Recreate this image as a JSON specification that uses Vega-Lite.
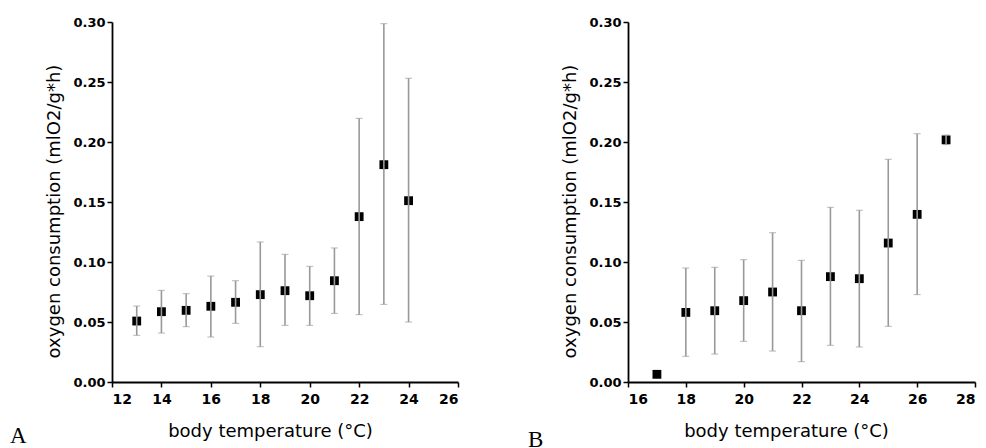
{
  "$schema": "https://vega.github.io/schema/vega-lite/v6.json",
  "padding": {"left": 10, "top": 16, "right": 5, "bottom": 0},
  "background": "white",
  "datasets": {
    "a": [
      {"t": 13, "m": 0.0508, "lo": 0.0389, "hi": 0.0633},
      {"t": 14, "m": 0.0586, "lo": 0.0408, "hi": 0.0764},
      {"t": 15, "m": 0.0597, "lo": 0.0461, "hi": 0.0736},
      {"t": 16, "m": 0.0631, "lo": 0.0375, "hi": 0.0883},
      {"t": 17, "m": 0.0664, "lo": 0.0489, "hi": 0.0844},
      {"t": 18, "m": 0.0728, "lo": 0.0294, "hi": 0.1167},
      {"t": 19, "m": 0.0761, "lo": 0.0472, "hi": 0.1064},
      {"t": 20, "m": 0.0719, "lo": 0.0472, "hi": 0.0964},
      {"t": 21, "m": 0.0844, "lo": 0.0572, "hi": 0.1117},
      {"t": 22, "m": 0.1378, "lo": 0.0561, "hi": 0.2197},
      {"t": 23, "m": 0.1811, "lo": 0.0647, "hi": 0.2986},
      {"t": 24, "m": 0.1511, "lo": 0.0500, "hi": 0.2531}
    ],
    "b": [
      {"t": 17, "m": 0.0064, "lo": null, "hi": null},
      {"t": 18, "m": 0.0580, "lo": 0.0214, "hi": 0.0950},
      {"t": 19, "m": 0.0594, "lo": 0.0233, "hi": 0.0956},
      {"t": 20, "m": 0.0678, "lo": 0.0339, "hi": 0.1019},
      {"t": 21, "m": 0.0750, "lo": 0.0258, "hi": 0.1244},
      {"t": 22, "m": 0.0594, "lo": 0.0169, "hi": 0.1014},
      {"t": 23, "m": 0.0878, "lo": 0.0306, "hi": 0.1456},
      {"t": 24, "m": 0.0861, "lo": 0.0292, "hi": 0.1431},
      {"t": 25, "m": 0.1158, "lo": 0.0464, "hi": 0.1856},
      {"t": 26, "m": 0.1397, "lo": 0.0728, "hi": 0.2069},
      {"t": 27, "m": 0.2018, "lo": 0.1978, "hi": 0.2058}
    ]
  },
  "spacing": 170,
  "bounds": "flush",
  "hconcat": [
    {
      "width": 346,
      "height": 360,
      "title": {"text": "A", "orient": "bottom", "anchor": "start", "frame": "group", "dx": -102, "dy": -19, "font": "Liberation Serif", "fontSize": 23, "fontWeight": "normal", "color": "black"},
      "data": {"name": "a"},
      "layer": [
        {
          "mark": {"type": "point", "shape": "square", "filled": true, "color": "black", "size": 78, "opacity": 1},
          "encoding": {
            "x": {"field": "t", "type": "quantitative", "scale": {"domain": [12, 26], "nice": false}, "axis": {"values": [12, 14, 16, 18, 20, 22, 24, 26], "title": "body temperature (°C)", "titleX": 158}},
            "y": {"field": "m", "type": "quantitative", "scale": {"domain": [0, 0.3], "nice": false}, "axis": {"values": [0, 0.05, 0.1, 0.15, 0.2, 0.25, 0.3], "format": ".2f", "title": "oxygen consumption (mlO2/g*h)", "titleY": 189}}
          }
        },
        {
          "transform": [{"filter": "isValid(datum.lo)"}],
          "mark": {"type": "errorbar", "ticks": {"size": 7, "color": "#999999", "strokeWidth": 1.6}, "rule": {"color": "#999999", "strokeWidth": 1.6}},
          "encoding": {
            "x": {"field": "t", "type": "quantitative"},
            "y": {"field": "lo", "type": "quantitative", "title": "oxygen consumption (mlO2/g*h)"},
            "y2": {"field": "hi"}
          }
        }
      ]
    },
    {
      "width": 347,
      "height": 360,
      "title": {"text": "B", "orient": "bottom", "anchor": "start", "frame": "group", "dx": -100, "dy": -15, "font": "Liberation Serif", "fontSize": 23, "fontWeight": "normal", "color": "black"},
      "data": {"name": "b"},
      "layer": [
        {
          "mark": {"type": "point", "shape": "square", "filled": true, "color": "black", "size": 78, "opacity": 1},
          "encoding": {
            "x": {"field": "t", "type": "quantitative", "scale": {"domain": [16, 28], "nice": false}, "axis": {"values": [16, 18, 20, 22, 24, 26, 28], "title": "body temperature (°C)", "titleX": 158}},
            "y": {"field": "m", "type": "quantitative", "scale": {"domain": [0, 0.3], "nice": false}, "axis": {"values": [0, 0.05, 0.1, 0.15, 0.2, 0.25, 0.3], "format": ".2f", "title": "oxygen consumption (mlO2/g*h)", "titleY": 189}}
          }
        },
        {
          "transform": [{"filter": "isValid(datum.lo)"}],
          "mark": {"type": "errorbar", "ticks": {"size": 7, "color": "#999999", "strokeWidth": 1.6}, "rule": {"color": "#999999", "strokeWidth": 1.6}},
          "encoding": {
            "x": {"field": "t", "type": "quantitative"},
            "y": {"field": "lo", "type": "quantitative", "title": "oxygen consumption (mlO2/g*h)"},
            "y2": {"field": "hi"}
          }
        }
      ]
    }
  ],
  "config": {
    "view": {"stroke": null},
    "axis": {
      "grid": false,
      "domainColor": "black",
      "domainWidth": 1.8,
      "tickColor": "black",
      "tickWidth": 1.5,
      "tickSize": 5,
      "labelFont": "DejaVu Sans",
      "labelFontWeight": "bold",
      "labelColor": "black",
      "labelPadding": 2,
      "titleFont": "DejaVu Sans",
      "titleFontWeight": "normal",
      "titleFontSize": 18,
      "titleColor": "black"
    },
    "axisX": {"labelFontSize": 14, "labelPadding": 5, "titlePadding": 16},
    "axisY": {"labelFontSize": 13, "titlePadding": 9}
  }
}
